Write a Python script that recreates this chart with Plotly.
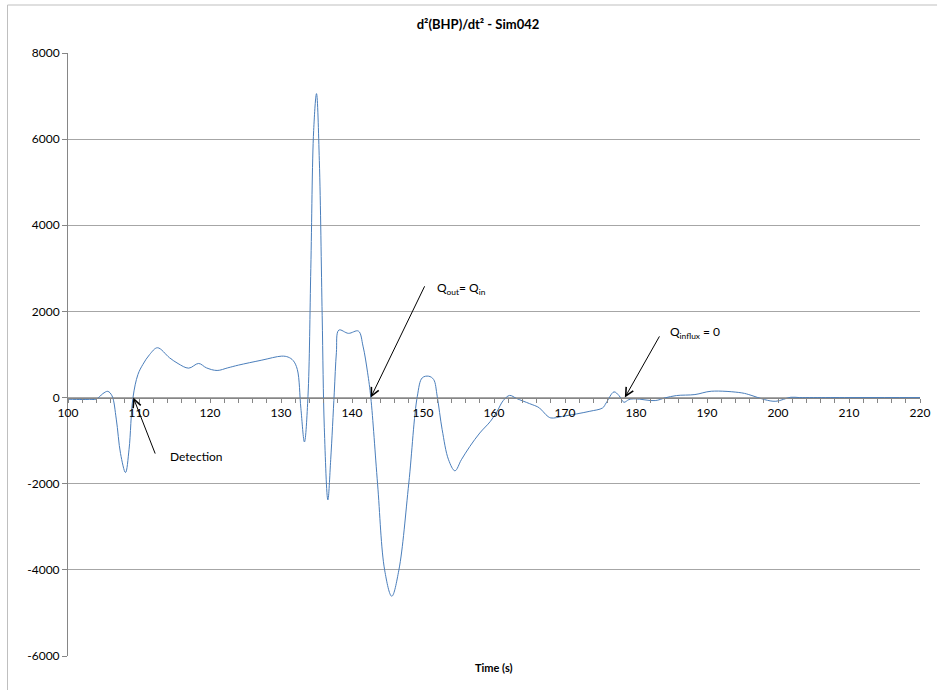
import plotly.graph_objects as go

time_s = [100, 102, 103, 104, 104.9, 105.6, 106.2, 106.8, 107.4, 108.1, 108.6, 109.15,
          109.85, 110.55, 111.5, 112.6, 114.3, 115.5, 117.0, 118.4, 119.5, 121.0, 122.5,
          124.0, 127.3, 130.1, 131.0, 131.7, 132.3, 132.8, 133.3, 133.8, 134.2,
          134.6, 135.0, 135.4, 135.8, 136.1, 136.6, 137.0, 137.5, 137.8, 138.15,
          139.5, 140.9, 141.55, 142.2, 142.65, 143.6, 144.6, 145.6, 146.6, 148.0, 149.2,
          149.9, 150.8, 151.5, 152.0, 152.7, 153.6, 154.5, 155.4, 156.6, 158.0, 159.5,
          160.4, 161.3, 162.2, 163.2, 165.0, 166.4, 167.3, 168.0, 169.7, 171.6, 173.5,
          175.3, 175.8, 176.9, 177.6, 178.3, 179.0, 179.9, 182.7, 184.1, 185.7, 188.3,
          190.6, 194.9, 196.2, 198.1, 199.7, 201.8, 203, 205, 210, 215, 220]
d2bhp = [-40, -45, -42, -35, 90, 145, 40, -500, -1300, -1740, -1200, 0,
         535, 770, 1000, 1157, 924, 790, 683, 792, 690, 629, 690,
         753, 869, 962, 940, 862, 652, -250, -1030, 30, 3000,
         6200, 7057, 5500, 1900, -700, -2376, -1444, 109, 1041, 1567,
         1491, 1544, 1195, 575, 0, -2000, -4006, -4612, -4006, -1987, 30,
         459, 496, 419, 30, -745, -1444, -1700, -1444, -1134, -822, -551,
         -330, -70, 50, -23, -140, -240, -396, -473, -435, -380, -318,
         -240, -124, 132, 47, -109, -47, -30, -70, -7, 47, 70,
         147, 109, 54, -47, -86, 7, 0, 0, 0, 0, 0]

y_ticks = [-6000, -4000, -2000, 0, 2000, 4000, 6000, 8000]
x_ticks = [100, 110, 120, 130, 140, 150, 160, 170, 180, 190, 200, 210, 220]

FONT = "Lato"
AXIS_GREY = "#868686"
GRID_GREY = "#A6A6A6"

fig = go.Figure()
fig.add_trace(go.Scatter(x=time_s, y=d2bhp, mode="lines",
                         line=dict(color="#4A7EBB", width=1, shape="spline", smoothing=1.0),
                         showlegend=False, hoverinfo="x+y"))

x_pos = 6000 / 14000

fig.update_layout(
    width=942, height=690,
    margin=dict(l=68, r=15, t=53, b=34),
    paper_bgcolor="white", plot_bgcolor="white",
    font=dict(family=FONT, size=12, color="#000000"),
    title=dict(text="<b>d²(BHP)/dt² - Sim042</b>", x=478 / 942, xanchor="center",
               y=1 - 24 / 690, yanchor="middle", font=dict(family=FONT, size=13, color="#000000")),
    xaxis=dict(range=[100, 220], tickvals=x_ticks, ticktext=[str(v) for v in x_ticks],
               anchor="free", position=x_pos, showgrid=False, zeroline=False,
               showline=True, linecolor=AXIS_GREY, linewidth=1,
               ticks="outside", ticklen=4, tickcolor=AXIS_GREY, tickwidth=1,
               minor=dict(dtick=2, ticks="outside", ticklen=4, tickcolor=AXIS_GREY, showgrid=False),
               tickfont=dict(family=FONT, size=12, color="#000000")),
    xaxis2=dict(range=[100, 220], overlaying="x", anchor="free", position=x_pos,
                tickvals=x_ticks, ticks="inside", ticklen=4, tickcolor=AXIS_GREY,
                showticklabels=False, showgrid=False, zeroline=False, showline=False),
    yaxis=dict(range=[-6000, 8000], tickvals=y_ticks, ticktext=[str(v) for v in y_ticks],
               showgrid=True, gridcolor=GRID_GREY, gridwidth=1, zeroline=False,
               showline=True, linecolor=AXIS_GREY, linewidth=1,
               ticks="outside", ticklen=5, tickcolor=AXIS_GREY,
               tickfont=dict(family=FONT, size=12, color="#000000")),
)

# outer chart border (left and top edges visible)
fig.add_shape(type="line", xref="paper", yref="paper", x0=-0.0710, x1=-0.0710,
              y0=1.0796, y1=-0.06, line=dict(color="#BFBFBF", width=1))
fig.add_shape(type="line", xref="paper", yref="paper", x0=-0.0710, x1=1.02,
              y0=1.0796, y1=1.0796, line=dict(color="#BFBFBF", width=1))

arrows = [
    (109.2, 0, 112.36, -1335),
    (142.64, 0, 150.33, 2618),
    (178.43, 0, 183.42, 1455),
]
for hx, hy, tx, ty in arrows:
    fig.add_annotation(x=hx, y=hy, ax=tx, ay=ty, xref="x", yref="y", axref="x", ayref="y",
                       text="", showarrow=True, arrowhead=5, arrowsize=1.6, arrowwidth=1,
                       arrowcolor="#000000")

labels = [
    (114.08, -1374, "Detection"),
    (151.73, 2541, "Q<sub>out</sub>= Q<sub>in</sub>"),
    (184.54, 1502, "Q<sub>influx</sub> = 0"),
]
for lx, ly, txt in labels:
    fig.add_annotation(x=lx, y=ly, xref="x", yref="y", text=txt, showarrow=False,
                       xanchor="left", yanchor="middle",
                       font=dict(family=FONT, size=12, color="#000000"))

fig.add_annotation(x=(497 - 68) / 859, y=(656 - 667) / 603, xref="paper", yref="paper",
                   text="<b>Time (s)</b>", showarrow=False, xanchor="center", yanchor="middle",
                   font=dict(family=FONT, size=11, color="#000000"))

fig.write_html("out.html")
